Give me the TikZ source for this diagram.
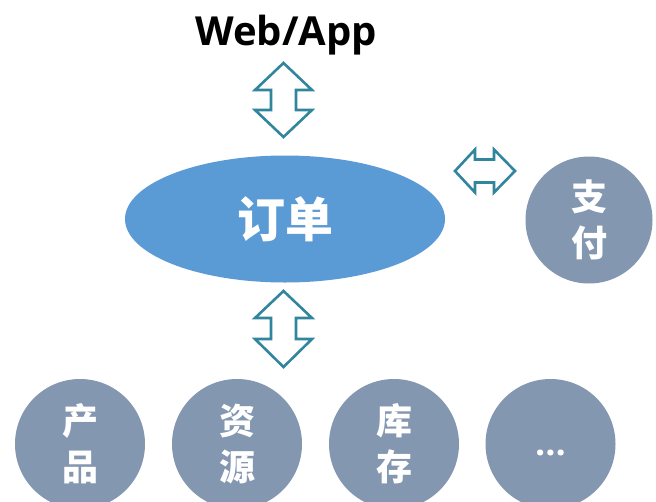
\documentclass[tikz,border=0pt]{standalone}
\usepackage{fontspec}
\newfontfamily\cjk{Noto Sans CJK SC}
\newfontfamily\latinb{Open Sans}
\usetikzlibrary{shapes.geometric}
\definecolor{ellblue}{HTML}{5B9BD5}
\definecolor{circgray}{HTML}{8497B0}
\definecolor{arrteal}{HTML}{31859C}
\begin{document}
\begin{tikzpicture}[x=1pt,y=-1pt,
  circ/.style={circle, fill=circgray, minimum size=130pt, inner sep=0pt, text=white,
    font=\cjk\bfseries\fontsize{36}{46}\selectfont, align=center},
  dbl/.style={draw=arrteal, line width=2.6pt, fill=white, line join=miter}]
\useasboundingbox (0,0) rectangle (656,501);

% title
\node[font=\latinb\bfseries\fontsize{40}{48}\selectfont, anchor=base] (web) at (286,45) {Web/App};

% central ellipse
\node[ellipse, fill=ellblue, minimum width=320pt, minimum height=127pt, inner sep=0pt,
  text=white, font=\cjk\bfseries\fontsize{48}{58}\selectfont] (order) at (285,219) {订单};

% payment
\node[circ, minimum size=127pt] (pay) at (589,220) {支\\付};

% bottom circles
\node[circ] (prod) at (80,444) {产\\品};
\node[circ] (res) at (237,444) {资\\源};
\node[circ] (stock) at (394,444) {库\\存};
\node[circ] (more) at (550.5,444) {};
\node[text=white, font=\latinb\bfseries\fontsize{36}{46}\selectfont, inner sep=0pt] (dots) at (550.5,453) {…};

% double arrows
\draw[dbl] (283.5,63) -- (312,90) -- (296,90) -- (296,110) -- (312,110) -- (283.5,137)
  -- (255,110) -- (271,110) -- (271,90) -- (255,90) -- cycle;
\draw[dbl] (283.5,291) -- (312,318) -- (296,318) -- (296,339) -- (312,339) -- (283.5,367)
  -- (255,339) -- (271,339) -- (271,318) -- (255,318) -- cycle;
\draw[dbl] (455,171) -- (475,149.5) -- (475,159.5) -- (494,159.5) -- (494,149.5) -- (515,171)
  -- (494,192.5) -- (494,182.5) -- (475,182.5) -- (475,192.5) -- cycle;
\end{tikzpicture}
\end{document}
